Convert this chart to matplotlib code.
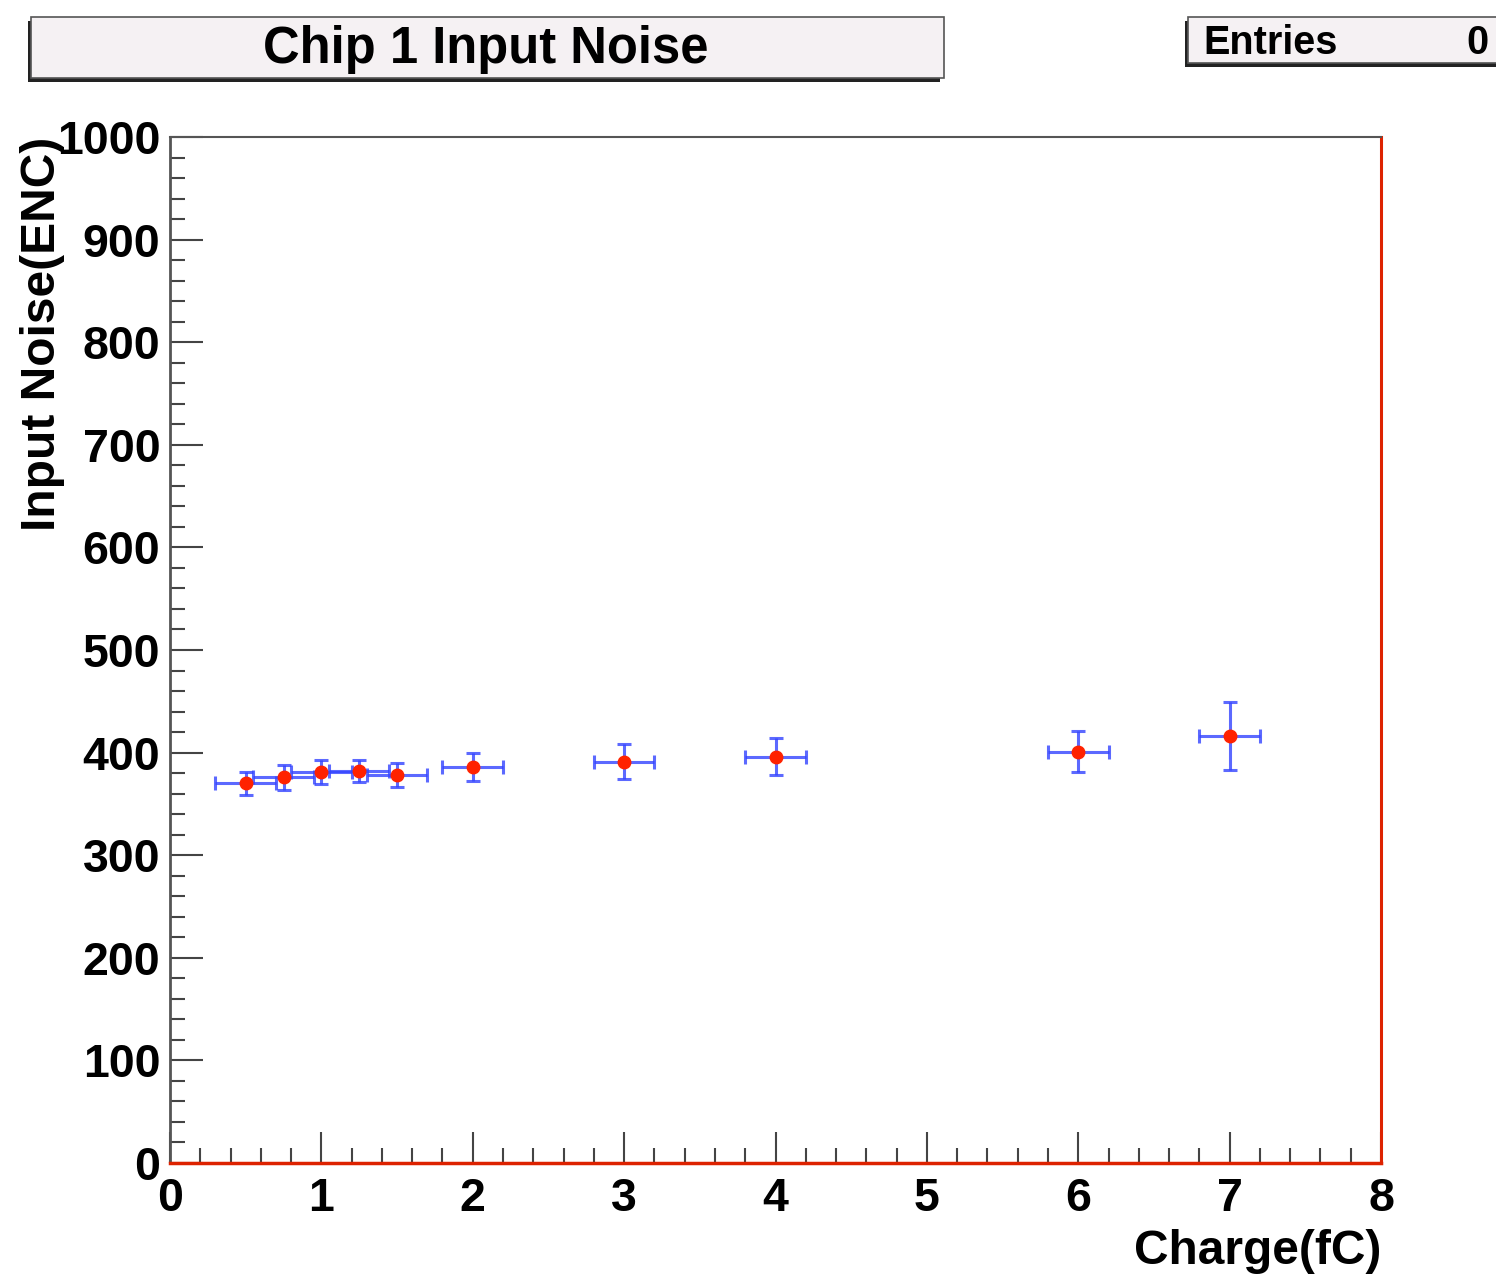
import numpy as np
import matplotlib
matplotlib.use("Agg")
import matplotlib.pyplot as plt
from matplotlib.patches import Rectangle
from matplotlib.ticker import MultipleLocator

plt.rcParams['font.family'] = ['Liberation Sans', 'DejaVu Sans']
plt.rcParams['font.weight'] = 'bold'

# Daten
charge = [0.5, 0.75, 1.0, 1.25, 1.5, 2.0, 3.0, 4.0, 6.0, 7.0]
noise = [370, 376, 381, 382, 378, 386, 391, 396, 401, 416]
noise_err = [11, 12, 12, 11, 12, 14, 17, 18, 20, 33]
charge_err = [0.2] * len(charge)

title = "Chip 1 Input Noise"
xlabel = "Charge(fC)"
ylabel = "Input Noise(ENC)"

W, H = 1496, 1280
fig = plt.figure(figsize=(W / 100, H / 100), dpi=100)
ax = fig.add_axes([170 / W, 1 - 1163 / H, (1381 - 170) / W, (1163 - 137) / H])

ax.errorbar(charge, noise, xerr=charge_err, yerr=noise_err, fmt='none',
            ecolor='#3344ff', elinewidth=2.2, capsize=5, capthick=2.2, alpha=0.8, zorder=2)
ax.plot(charge, noise, 'o', color='#ff2200', markersize=9, zorder=3)

ax.set_xlim(0, 8)
ax.set_ylim(0, 1000)
ax.xaxis.set_major_locator(MultipleLocator(1))
ax.xaxis.set_minor_locator(MultipleLocator(0.2))
ax.yaxis.set_major_locator(MultipleLocator(100))
ax.yaxis.set_minor_locator(MultipleLocator(20))

ax.tick_params(axis='y', which='major', direction='in', length=24, width=1.5,
               color='#444444', labelsize=33.5, pad=7)
ax.tick_params(axis='y', which='minor', direction='in', length=11, width=1.5, color='#444444')
ax.tick_params(axis='x', which='major', direction='in', length=22, width=1.5,
               color='#444444', labelsize=33.5, pad=10)
ax.tick_params(axis='x', which='minor', direction='in', length=11, width=1.5, color='#444444')
for lab in ax.get_xticklabels() + ax.get_yticklabels():
    lab.set_fontweight('bold')

ax.spines['top'].set_color('#555555')
ax.spines['top'].set_linewidth(1.5)
ax.spines['left'].set_color('#555555')
ax.spines['left'].set_linewidth(2)
ax.spines['right'].set_color('#dd2200')
ax.spines['right'].set_linewidth(2.2)
ax.spines['bottom'].set_color('#dd2200')
ax.spines['bottom'].set_linewidth(2.5)

# Achsenbeschriftungen (ROOT-Stil)
fig.text(43 / W, 1 - 137 / H, ylabel, rotation=90, ha='center', va='top',
         fontsize=34.5, fontweight='bold')
fig.text(1381 / W, 1 - 1252 / H, xlabel, ha='right', va='center',
         fontsize=34.5, fontweight='bold')

# Titel-Box mit Schatten
def box(x0, y0, x1, y1):
    sh = Rectangle((x0 / W, 1 - (y1 + 4) / H), (x1 - x0 - 4) / W, (y1 - y0) / H,
                   transform=fig.transFigure, facecolor='#222222', edgecolor='none', zorder=1)
    b = Rectangle(((x0 + 3) / W, 1 - y1 / H), (x1 - x0 - 3) / W, (y1 - y0) / H,
                  transform=fig.transFigure, facecolor='#f5f1f3', edgecolor='#555555',
                  linewidth=1.2, zorder=2)
    fig.patches.extend([sh, b])

box(28, 17, 944, 78)
fig.text(486 / W, 1 - 49 / H, title, ha='center', va='center', fontsize=36.5,
         fontweight='bold', zorder=3)

box(1185, 17, 1500, 63)
fig.text(1203 / W, 1 - 43 / H, "Entries", ha='left', va='center', fontsize=28.5,
         fontweight='bold', zorder=3)
fig.text(1489 / W, 1 - 43 / H, "0", ha='right', va='center', fontsize=28.5,
         fontweight='bold', zorder=3)

fig.savefig("out.png", dpi=100)
